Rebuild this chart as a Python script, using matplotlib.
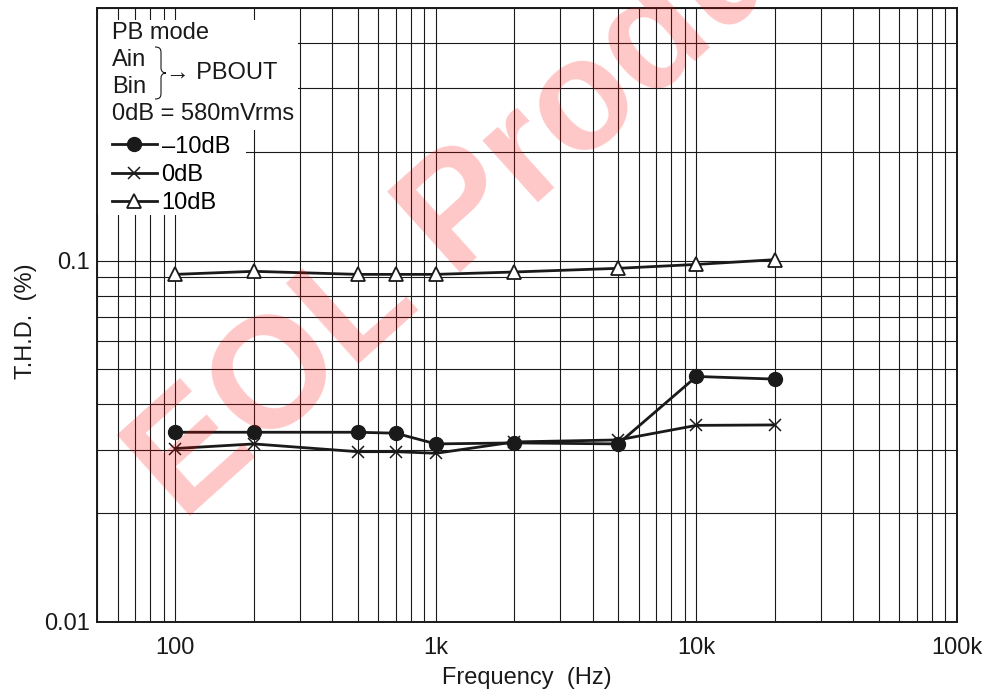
import matplotlib
matplotlib.use("Agg")
import matplotlib.pyplot as plt
from matplotlib.lines import Line2D
from matplotlib.patches import Rectangle, PathPatch
from matplotlib.path import Path
from matplotlib.ticker import FixedLocator, NullFormatter

plt.rcParams['font.family'] = ['Liberation Sans', 'DejaVu Sans']

freq = [100, 200, 500, 700, 1000, 2000, 5000, 10000, 20000]
thd_m10 = [0.0335, 0.0335, 0.0335, 0.0333, 0.0311, 0.0313, 0.0311, 0.0478, 0.0470]
thd_0 = [0.0302, 0.0311, 0.0296, 0.0296, 0.0293, 0.0315, 0.0319, 0.0350, 0.0351]
thd_p10 = [0.0916, 0.0934, 0.0916, 0.0916, 0.0916, 0.0930, 0.0952, 0.0976, 0.1006]
labels = ['\u201310dB', '0dB', '10dB']

xticks = [100, 1000, 10000, 100000]
xticklabels = ['100', '1k', '10k', '100k']
yticks = [0.01, 0.1]
yticklabels = ['0.01', '0.1']

FS = 17
fig = plt.figure(figsize=(9.9, 6.95), dpi=100)
ax = fig.add_axes([97/990, 1-622/695, 860/990, 614/695])
ax.set_xscale('log')
ax.set_yscale('log')
ax.set_xlim(50, 100000)
ax.set_ylim(0.01, 0.5)

# grid on every 1-2-...-9 step
xminor = [m * 10**e for e in range(1, 5) for m in range(1, 10) if 50 <= m * 10**e <= 100000]
yminor = [m * 10**e for e in (-2, -1) for m in range(1, 10) if m * 10**e <= 0.5]
ax.xaxis.set_major_locator(FixedLocator(xticks))
ax.xaxis.set_minor_locator(FixedLocator(xminor))
ax.yaxis.set_major_locator(FixedLocator(yticks))
ax.yaxis.set_minor_locator(FixedLocator(yminor))
ax.set_xticklabels(xticklabels)
ax.set_yticklabels(yticklabels)
ax.xaxis.set_minor_formatter(NullFormatter())
ax.yaxis.set_minor_formatter(NullFormatter())
ax.grid(True, which='both', color='#1a1a1a', lw=0.8)
ax.set_axisbelow(True)
ax.tick_params(which='both', length=0, labelsize=FS, colors='#1a1a1a')
ax.tick_params(axis='x', pad=10.5)
ax.tick_params(axis='y', pad=5)
for s in ax.spines.values():
    s.set_linewidth(1.4)
    s.set_color('#1a1a1a')
    s.set_zorder(5)

ax.set_xlabel('Frequency  (Hz)', fontsize=FS, labelpad=6, color='#1a1a1a')
ax.set_ylabel('T.H.D.  (%)', fontsize=FS, color='#1a1a1a')
ax.yaxis.set_label_coords(-0.07, 0.49)

# white areas behind the notes and the legend
ax.add_patch(Rectangle((0, 0.801), 0.2337, 0.179, transform=ax.transAxes,
                       facecolor='white', edgecolor='none', zorder=1))
ax.add_patch(Rectangle((0, 0.663), 0.1733, 0.14, transform=ax.transAxes,
                       facecolor='white', edgecolor='none', zorder=1))

lc = '#1a1a1a'
ax.plot(freq, thd_p10, color=lc, lw=2, marker='^', ms=9.5, mfc='white', mec=lc, mew=1.3, zorder=3)
ax.plot(freq, thd_0, color=lc, lw=2, marker='x', ms=9, mec=lc, mew=1.1, zorder=3)
ax.plot(freq, thd_m10, color=lc, lw=2, marker='o', ms=10, mfc=lc, mec=lc, zorder=4)

handles = [
    Line2D([], [], color=lc, lw=2, marker='o', ms=10, mfc=lc, mec=lc),
    Line2D([], [], color=lc, lw=2, marker='x', ms=9, mec=lc, mew=1.1),
    Line2D([], [], color=lc, lw=2, marker='^', ms=9.5, mfc='white', mec=lc, mew=1.3),
]
ax.legend(handles, labels, loc='upper left', bbox_to_anchor=(0.0174, 0.792),
          frameon=False, fontsize=FS, handlelength=1.9, handletextpad=0.2,
          labelspacing=0.26, borderpad=0, borderaxespad=0)

def px(x, y):
    return ((x - 97) / 860, (622 - y) / 614)

tk = dict(transform=ax.transAxes, fontsize=FS, color='#1a1a1a', va='center', ha='left', zorder=6)
ax.text(*px(112, 33), 'PB mode', **tk)
ax.text(*px(112, 60), 'Ain', **tk)
ax.text(*px(112, 87), 'Bin', **tk)
ax.text(*px(166, 73), '\u2192 PBOUT', **tk)
ax.text(*px(112, 114), '0dB = 580mVrms', **tk)

verts = [px(155, 47), px(160, 47), px(161, 49), px(161, 53), px(161, 68),
         px(161, 71), px(163, 73), px(166, 73), px(163, 73), px(161, 75), px(161, 78),
         px(161, 93), px(161, 97), px(160, 99), px(155, 99)]
codes = [Path.MOVETO, Path.CURVE4, Path.CURVE4, Path.CURVE4, Path.LINETO,
         Path.CURVE4, Path.CURVE4, Path.CURVE4, Path.CURVE4, Path.CURVE4, Path.CURVE4,
         Path.LINETO, Path.CURVE4, Path.CURVE4, Path.CURVE4]
ax.add_patch(PathPatch(Path(verts, codes), transform=ax.transAxes, facecolor='none',
                       edgecolor='#1a1a1a', lw=0.8, zorder=6))

# watermark
fig.text(183/990, 1-523/695, 'EOL Product', fontsize=113, fontweight='bold', color='red',
         alpha=0.22, rotation=42, rotation_mode='anchor', ha='left', va='baseline', zorder=10)

fig.savefig('out.png', dpi=100)
